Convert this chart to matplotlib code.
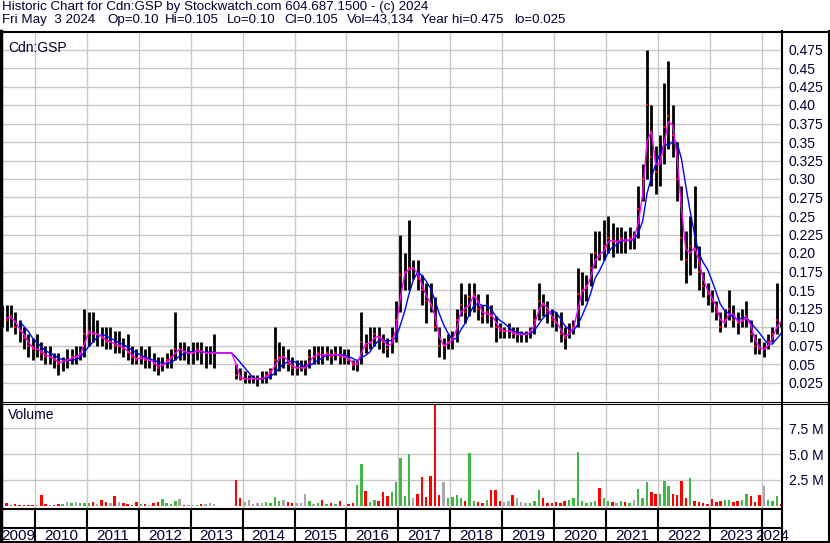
import matplotlib
matplotlib.use("Agg")
import matplotlib.pyplot as plt
from matplotlib.lines import Line2D
import numpy as np
import pandas as pd

nan = np.nan

# monthly bars, May 2009 .. May 2024
months = pd.date_range("2009-05-01", "2024-05-01", freq="MS")

high = [
    0.13, 0.13, 0.13, 0.12, 0.11, 0.10, 0.09, 0.085,                                   # 2009
    0.09, 0.08, 0.075, 0.075, 0.065, 0.065, 0.06, 0.07, 0.07, 0.075, 0.075, 0.125,     # 2010
    0.12, 0.12, 0.11, 0.10, 0.10, 0.10, 0.095, 0.095, 0.085, 0.09, 0.075, 0.07,        # 2011
    0.075, 0.07, 0.075, 0.065, 0.06, 0.06, 0.065, 0.07, 0.12, 0.08, 0.08, 0.075,       # 2012
    0.08, 0.08, 0.08, 0.075, 0.075, 0.09, nan, nan, nan, nan, 0.05, 0.045,             # 2013
    0.04, 0.035, 0.035, 0.035, 0.04, 0.04, 0.045, 0.10, 0.08, 0.075, 0.07, 0.06,       # 2014
    0.055, 0.055, 0.055, 0.07, 0.075, 0.075, 0.075, 0.075, 0.07, 0.075, 0.075, 0.07,   # 2015
    0.07, 0.055, 0.055, 0.12, 0.09, 0.10, 0.10, 0.10, 0.09, 0.085, 0.10, 0.135,        # 2016
    0.225, 0.20, 0.245, 0.19, 0.19, 0.17, 0.16, 0.16, 0.14, 0.10, 0.085, 0.09,         # 2017
    0.095, 0.125, 0.16, 0.145, 0.16, 0.16, 0.145, 0.13, 0.145, 0.13, 0.115, 0.105,     # 2018
    0.10, 0.105, 0.10, 0.10, 0.095, 0.095, 0.10, 0.125, 0.16, 0.145, 0.135, 0.125,     # 2019
    0.12, 0.12, 0.10, 0.105, 0.11, 0.18, 0.175, 0.17, 0.20, 0.23, 0.23, 0.245,         # 2020
    0.25, 0.24, 0.235, 0.235, 0.23, 0.235, 0.23, 0.29, 0.32, 0.475, 0.40, 0.345,       # 2021
    0.36, 0.43, 0.46, 0.40, 0.35, 0.29, 0.23, 0.25, 0.29, 0.21, 0.175, 0.16,           # 2022
    0.15, 0.135, 0.12, 0.125, 0.15, 0.13, 0.12, 0.125, 0.135, 0.11, 0.09, 0.085,       # 2023
    0.08, 0.09, 0.10, 0.16, 0.105,                                                     # 2024
]
low = [
    0.10, 0.095, 0.10, 0.09, 0.08, 0.07, 0.06, 0.055,
    0.06, 0.055, 0.05, 0.05, 0.045, 0.035, 0.04, 0.045, 0.05, 0.05, 0.055, 0.06,
    0.075, 0.08, 0.075, 0.075, 0.07, 0.07, 0.065, 0.065, 0.06, 0.055, 0.05, 0.05,
    0.05, 0.045, 0.045, 0.04, 0.035, 0.04, 0.045, 0.045, 0.055, 0.055, 0.055, 0.05,
    0.05, 0.055, 0.05, 0.045, 0.05, 0.045, nan, nan, nan, nan, 0.03, 0.028,
    0.025, 0.025, 0.025, 0.02, 0.025, 0.025, 0.03, 0.035, 0.04, 0.045, 0.04, 0.035,
    0.035, 0.04, 0.035, 0.045, 0.05, 0.05, 0.05, 0.055, 0.05, 0.055, 0.05, 0.05,
    0.05, 0.042, 0.04, 0.05, 0.065, 0.07, 0.075, 0.07, 0.065, 0.06, 0.065, 0.08,
    0.12, 0.15, 0.15, 0.165, 0.15, 0.13, 0.105, 0.12, 0.095, 0.06, 0.057, 0.07,
    0.07, 0.08, 0.115, 0.105, 0.115, 0.12, 0.11, 0.105, 0.105, 0.10, 0.08, 0.085,
    0.085, 0.085, 0.085, 0.08, 0.08, 0.08, 0.085, 0.09, 0.11, 0.115, 0.105, 0.10,
    0.095, 0.08, 0.07, 0.085, 0.09, 0.10, 0.13, 0.135, 0.155, 0.18, 0.19, 0.19,
    0.20, 0.195, 0.20, 0.20, 0.20, 0.205, 0.205, 0.22, 0.27, 0.30, 0.29, 0.28,
    0.29, 0.32, 0.34, 0.33, 0.27, 0.19, 0.16, 0.17, 0.18, 0.15, 0.14, 0.13,
    0.12, 0.11, 0.093, 0.10, 0.11, 0.10, 0.09, 0.10, 0.10, 0.08, 0.063, 0.063,
    0.06, 0.07, 0.08, 0.09, 0.10,
]
close = [
    0.115, 0.11, 0.115, 0.10, 0.095, 0.085, 0.075, 0.07,
    0.07, 0.065, 0.06, 0.06, 0.055, 0.05, 0.055, 0.055, 0.06, 0.06, 0.065, 0.09,
    0.095, 0.09, 0.09, 0.085, 0.08, 0.08, 0.075, 0.075, 0.07, 0.065, 0.06, 0.055,
    0.06, 0.055, 0.055, 0.05, 0.045, 0.05, 0.055, 0.06, 0.07, 0.07, 0.065, 0.065,
    0.065, 0.07, 0.065, 0.065, 0.065, 0.065, nan, nan, nan, nan, 0.035, 0.03,
    0.03, 0.03, 0.03, 0.03, 0.03, 0.035, 0.04, 0.055, 0.06, 0.06, 0.05, 0.045,
    0.045, 0.045, 0.045, 0.06, 0.06, 0.065, 0.06, 0.065, 0.06, 0.065, 0.06, 0.06,
    0.055, 0.048, 0.05, 0.08, 0.075, 0.08, 0.09, 0.085, 0.08, 0.07, 0.085, 0.11,
    0.17, 0.175, 0.18, 0.18, 0.165, 0.15, 0.135, 0.13, 0.10, 0.075, 0.075, 0.08,
    0.085, 0.11, 0.13, 0.12, 0.14, 0.145, 0.125, 0.115, 0.12, 0.115, 0.10, 0.095,
    0.095, 0.095, 0.09, 0.09, 0.09, 0.09, 0.095, 0.11, 0.135, 0.13, 0.12, 0.11,
    0.105, 0.09, 0.085, 0.095, 0.10, 0.145, 0.15, 0.155, 0.18, 0.20, 0.195, 0.21,
    0.22, 0.215, 0.215, 0.22, 0.215, 0.22, 0.22, 0.26, 0.30, 0.40, 0.33, 0.31,
    0.33, 0.37, 0.385, 0.36, 0.30, 0.22, 0.19, 0.21, 0.205, 0.175, 0.155, 0.145,
    0.135, 0.12, 0.10, 0.11, 0.125, 0.11, 0.105, 0.11, 0.115, 0.09, 0.075, 0.07,
    0.07, 0.08, 0.09, 0.11, 0.105,
]
# volume in millions of shares
volume = [
    0.15, 0.3, 0.1, 0.15, 0.1, 0.1, 0.05, 0.1,
    0.1, 1.05, 0.2, 0.1, 0.1, 0.15, 0.2, 0.4, 0.3, 0.4, 0.3, 0.3,
    0.3, 0.35, 0.2, 0.6, 0.35, 0.3, 1.0, 0.4, 0.3, 0.15, 0.1, 0.35,
    0.2, 0.2, 0.1, 0.3, 0.4, 0.7, 0.3, 0.2, 0.5, 0.7, 0.1, 0.05,
    0.05, 0.1, 0.15, 0.2, 0.3, 0.2, 0, 0, 0, 0, 2.5, 0.8,
    0.4, 0.6, 0.2, 0.3, 0.3, 0.35, 0.3, 0.9, 0.5, 0.6, 0.4, 0.3,
    0.3, 0.3, 1.2, 0.5, 0.2, 0.3, 0.6, 0.2, 0.3, 0.2, 0.5, 0.1,
    0.2, 0.3, 2.0, 4.0, 1.4, 0.4, 0.6, 0.5, 1.3, 1.0, 1.3, 2.3,
    4.6, 1.0, 5.0, 0.8, 1.15, 2.8, 0.9, 2.9, 9.7, 1.1, 2.3, 0.8,
    0.9, 1.1, 0.8, 0.5, 5.1, 0.5, 0.4, 0.3, 0.6, 1.5, 1.5, 0.5,
    0.4, 0.5, 1.1, 0.8, 0.4, 0.3, 0.3, 0.5, 1.5, 0.8, 0.3, 0.3,
    0.4, 0.3, 0.5, 0.6, 0.8, 5.2, 0.5, 0.3, 0.4, 0.5, 1.7, 0.8,
    0.5, 0.4, 0.3, 0.5, 0.4, 0.3, 0.6, 1.6, 0.8, 2.3, 1.3, 1.2,
    1.2, 2.4, 1.9, 1.2, 1.1, 2.4, 0.8, 2.7, 0.5, 0.4, 0.3, 0.2,
    0.7, 0.4, 0.5, 0.6, 0.6, 0.4, 0.5, 0.6, 1.2, 1.0, 0.4, 1.1,
    1.9, 0.6, 0.5, 1.0, 0.2,
]

price_ticks = [0.025, 0.05, 0.075, 0.10, 0.125, 0.15, 0.175, 0.20, 0.225, 0.25,
               0.275, 0.30, 0.325, 0.35, 0.375, 0.40, 0.425, 0.45, 0.475]
price_labels = ["0.025", "0.05", "0.075", "0.10", "0.125", "0.15", "0.175", "0.20",
                "0.225", "0.25", "0.275", "0.30", "0.325", "0.35", "0.375", "0.40",
                "0.425", "0.45", "0.475"]
vol_ticks = [2.5, 5.0, 7.5]
vol_labels = ["2.5 M", "5.0 M", "7.5 M"]
years = list(range(2009, 2025))

title1 = "Historic Chart for Cdn:GSP by Stockwatch.com 604.687.1500 - (c) 2024"
# second header line, field text and its left edge in pixels
info_fields = ["Fri May  3 2024", "Op=0.10", "Hi=0.105", "Lo=0.10", "Cl=0.105",
               "Vol=43,134", "Year hi=0.475", "lo=0.025"]
info_x = [2, 107, 165, 227, 284, 347, 421, 514]

plt.rcParams["font.family"] = ["Liberation Sans", "DejaVu Sans"]

W, H = 830, 543
fig = plt.figure(figsize=(W / 100, H / 100), dpi=100)
fig.patch.set_facecolor("white")


def box(l, t, r, b):
    return [l / W, 1 - b / H, (r - l) / W, (b - t) / H]


xmin = pd.Timestamp("2009-05-07")
xmax = pd.Timestamp("2024-05-22")
x = months + pd.Timedelta(days=14)
year_lines = [pd.Timestamp(f"{y}-01-01") for y in years[1:]]
grid_c = "#c8c8c8"
txt_c = "#000033"

s_close = pd.Series(close).ffill()
ma_fast = s_close.rolling(2).mean()
ma_slow = s_close.rolling(5).mean()

# price panel
ax_p = fig.add_axes(box(1, 31, 782, 401))
ax_p.set_xlim(xmin, xmax)
ax_p.set_ylim(0, 0.5)
for v in price_ticks:
    ax_p.axhline(v, color=grid_c, lw=1, zorder=0)
for d in year_lines:
    ax_p.axvline(d, color=grid_c, lw=1, zorder=0)
ax_p.vlines(x, low, high, color="black", lw=2.0, zorder=2)
ax_p.plot(x, close, ls="none", marker="s", ms=1.6, color="red", mew=0, zorder=3)
ax_p.plot(x, ma_slow, color="#0000ff", lw=1.0, zorder=4)
ax_p.plot(x, ma_fast, color="#ff00ff", lw=1.0, zorder=5)
ax_p.yaxis.tick_right()
ax_p.set_yticks(price_ticks, price_labels)
ax_p.tick_params(axis="y", length=0, pad=5, labelsize=10, labelcolor=txt_c)
ax_p.set_xticks([])
for sp in ax_p.spines.values():
    sp.set_visible(False)
ax_p.text(7 / 781, 1 - 10 / 370, "Cdn:GSP", transform=ax_p.transAxes,
          fontsize=10, va="top", ha="left", color=txt_c)

# volume panel
d_close = s_close.diff().fillna(0)
vol_colors = ["#44b844" if c > 0 else ("#ff0000" if c < 0 else "#a8a8a8") for c in d_close]
ax_v = fig.add_axes(box(1, 404, 782, 509))
ax_v.set_xlim(xmin, xmax)
ax_v.set_ylim(-0.29, 9.81)
for v in vol_ticks:
    ax_v.axhline(v, color=grid_c, lw=1, zorder=0)
for d in year_lines:
    ax_v.axvline(d, color=grid_c, lw=1, zorder=0)
ax_v.bar(x, volume, width=17, color=vol_colors, zorder=2)
ax_v.yaxis.tick_right()
ax_v.set_yticks(vol_ticks, vol_labels)
ax_v.tick_params(axis="y", length=0, pad=5, labelsize=10, labelcolor=txt_c)
ax_v.set_xticks([])
for sp in ax_v.spines.values():
    sp.set_visible(False)
ax_v.text(7 / 781, 1 - 4 / 105, "Volume", transform=ax_v.transAxes,
          fontsize=10, va="top", ha="left", color=txt_c)

# year strip
ax_x = fig.add_axes(box(1, 509, 782, 543))
ax_x.set_xlim(xmin, xmax)
ax_x.set_ylim(0, 1)
ax_x.axis("off")
ax_x.vlines(year_lines, 0, 1, color="black", lw=1.5)
bounds = [xmin] + year_lines + [xmax]
for i, y in enumerate(years):
    mid = bounds[i] + (bounds[i + 1] - bounds[i]) / 2
    ax_x.text(mid, 7 / 34, str(y), ha="center", va="center", fontsize=11,
              color=txt_c, clip_on=False)


# chart frame
def fline(x0, y0, x1, y1, lw=1.5):
    fig.add_artist(Line2D([x0 / W, x1 / W], [1 - y0 / H, 1 - y1 / H],
                          color="black", lw=lw))


fline(0, 31.5, 830, 31.5)
fline(0, 401.5, 830, 401.5, lw=0.8)
fline(0, 403.5, 830, 403.5, lw=0.8)
fline(0, 509, 782, 509)
fline(0, 528, 782, 528)
fline(0, 542, 830, 542)
fline(1, 31, 1, 543, lw=2.5)
fline(782, 31, 782, 543)
fline(828.5, 31, 828.5, 543)

fig.text(2 / W, 1 - 1 / H, title1, fontsize=9.6, va="top", ha="left", color=txt_c)
for fx, ft in zip(info_x, info_fields):
    fig.text(fx / W, 1 - 14 / H, ft, fontsize=9.6, va="top", ha="left", color=txt_c)

fig.savefig("out.png", dpi=100)
